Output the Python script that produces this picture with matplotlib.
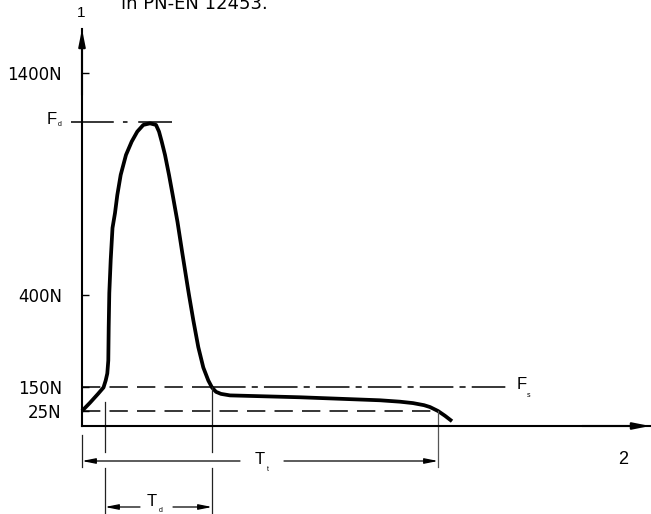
import numpy as np
import matplotlib
matplotlib.use("Agg")
import matplotlib.pyplot as plt
import matplotlib.transforms as mtransforms

# force-time curve of the impact test (time in arbitrary units, force in N)
curve_t = [0, 8, 16, 21.5, 23.7, 25.3, 26.3, 26.7, 27.3, 28.7, 30.5, 33,
           35.3, 38.7, 44, 49.7, 55.3, 61.3, 68, 74, 77, 79.7, 83, 87, 90.7,
           95.5, 100.3, 105.7, 107, 111.3, 116.3, 121.3, 126.3, 130, 134, 139,
           148, 218, 298, 318, 331, 342, 348, 356, 363, 370]
curve_f = [25, 69, 116, 150, 169, 188, 223, 313, 409, 558, 702, 769, 850, 941,
           1031, 1091, 1136, 1166, 1173, 1166, 1136, 1091, 1031, 941, 850, 729,
           589, 436, 400, 332, 259, 204, 169, 150, 127, 116, 108, 98, 82, 74.5,
           67, 56, 46, 25, 17, 8]

force_ticks = [25, 150, 400, 1400]
force_labels = ["25N", "150N", "400N", "1400N"]
F_d = 1180          # peak (dynamic) force
F_s = 150           # static force limit
F_end = 25          # residual force
T_d = (23, 130)     # dynamic time interval
T_t = (0, 356)      # total time interval
t_max, f_max = 569, 1598

# schematic (non-linear) force axis
knot_f = [-1000, 0, 25, 150, 400, 1400, 4000]
knot_p = [-600, 0, 15, 38.5, 131, 353, 930.2]


def fwd(f):
    return np.interp(f, knot_f, knot_p)


def inv(p):
    return np.interp(p, knot_p, knot_f)


W, H = 651, 514
fig = plt.figure(figsize=(W / 100, H / 100), dpi=100)
ax = fig.add_axes([82 / W, 88 / H, 569 / W, 397 / H])
ax.set_yscale("function", functions=(fwd, inv))
ax.set_xlim(0, t_max)
ax.set_ylim(0, f_max)
for s in ("top", "right"):
    ax.spines[s].set_visible(False)
for s in ("left", "bottom"):
    ax.spines[s].set_linewidth(1.5)
ax.set_xticks([])
ax.set_yticks(force_ticks, force_labels)
ax.yaxis.set_minor_locator(matplotlib.ticker.NullLocator())
ax.tick_params(axis="y", direction="in", length=5, width=1.0, pad=14.5,
               labelsize=12)
for lab in ax.get_yticklabels():
    lab.set_fontfamily("DejaVu Sans")

tip = dict(arrowstyle="-|>,head_length=1.0,head_width=0.2", lw=1.5,
           color="k", shrinkA=0, shrinkB=0)
ax.annotate("", xy=(0, f_max), xytext=(0, 1300), arrowprops=tip,
            annotation_clip=False)
ax.annotate("", xy=(t_max - 1, 0), xytext=(500, 0), arrowprops=tip,
            annotation_clip=False)

# reference lines
ax.plot([-11, 90], [F_d, F_d], color="k", lw=1.1, dashes=(28, 6, 3, 7),
        clip_on=False)
ax.plot([0, T_d[1]], [F_s, F_s], color="k", lw=1.1, dashes=(12, 6))
ax.plot([T_d[1], 428], [F_s, F_s], color="k", lw=1.1, dashes=(22, 4, 4, 4))
ax.plot([0, T_t[1]], [F_end, F_end], color="k", lw=1.1, dashes=(12, 6))

# the curve
ax.plot(curve_t, curve_f, color="k", lw=2.7, solid_capstyle="butt",
        solid_joinstyle="round", clip_on=False)


def below(dy):
    return ax.get_xaxis_transform() + mtransforms.ScaledTranslation(
        0, -dy / 100, fig.dpi_scale_trans)


dark, grey = "#222222", "#555555"
# extension lines above the time axis
ax.plot([T_d[0], T_d[0]], [75, 0], color=dark, lw=0.9, clip_on=False)
ax.plot([T_d[1], T_d[1]], [F_s, 0], color=dark, lw=0.9, clip_on=False)
ax.plot([T_t[1], T_t[1]], [F_end, 0], color=grey, lw=0.9, clip_on=False)
# extension lines below the time axis (pixel offsets)
for t, a, b in [(T_t[0], 9, 41), (T_d[0], 0, 26), (T_d[0], 42, 90),
                (T_d[1], 0, 26), (T_d[1], 42, 90), (T_t[1], 0, 41)]:
    ax.plot([t, t], [-a / 397, -b / 397], transform=ax.get_xaxis_transform(),
            color=grey if t == T_t[1] else dark, lw=0.9, clip_on=False)

dim = dict(arrowstyle="-|>,head_length=0.8,head_width=0.16", lw=0.9,
           color="k", shrinkA=0, shrinkB=0)


def dimension(t0, t1, g0, g1, dy):
    tf = below(dy)
    ax.annotate("", xy=(t0, 0), xycoords=tf, xytext=(g0, 0), textcoords=tf,
                arrowprops=dim, annotation_clip=False)
    ax.annotate("", xy=(t1, 0), xycoords=tf, xytext=(g1, 0), textcoords=tf,
                arrowprops=dim, annotation_clip=False)


dimension(T_t[0], T_t[1], 158, 202, 35)
dimension(T_d[0], T_d[1], 58, 91, 81)

lab = dict(family="Liberation Sans", ha="center", va="center",
           textcoords="offset pixels", annotation_clip=False)
ax.annotate("T", xy=(177.5, 0), xycoords=below(35), xytext=(0, 2),
            fontsize=12, **lab)
ax.annotate("t", xy=(185.5, 0), xycoords=below(35), xytext=(0, -8.5),
            fontsize=5, **lab)
ax.annotate("T", xy=(70, 0), xycoords=below(81), xytext=(0, 6),
            fontsize=12, **lab)
ax.annotate("d", xy=(79, 0), xycoords=below(81), xytext=(0, -4),
            fontsize=5, **lab)
ax.annotate("F", xy=(0, F_d), xytext=(-30.5, 2), fontsize=12, **lab)
ax.annotate("d", xy=(0, F_d), xytext=(-22.5, -3), fontsize=5, **lab)
ax.annotate("F", xy=(428, F_s), xytext=(12, 3), fontsize=12, **lab)
ax.annotate("s", xy=(428, F_s), xytext=(19, -8), fontsize=5, **lab)
ax.annotate("1", xy=(0, f_max), xytext=(-1, 16.5), fontsize=11, **lab)
ax.annotate("2", xy=(t_max, 0), xytext=(-28, -33.5), fontsize=13, **lab)

fig.text(121 / W, 1 - 9 / H, "in PN-EN 12453.", ha="left", va="baseline",
         fontsize=13, family="DejaVu Sans")

fig.savefig("out.png", dpi=100)
